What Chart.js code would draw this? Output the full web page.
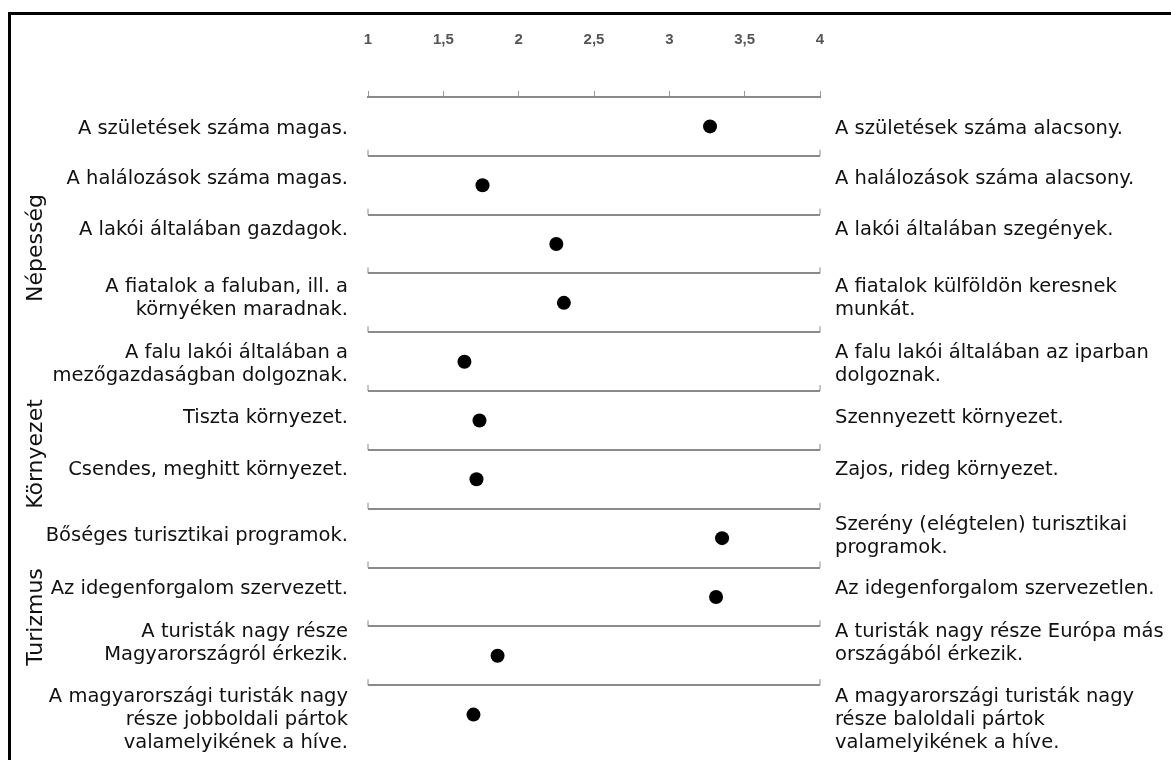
<!DOCTYPE html>
<html>
<head>
<meta charset="utf-8">
<script src="https://cdn.jsdelivr.net/npm/chart.js@4.4.1/dist/chart.umd.min.js"></script>
<style>
    html, body { margin: 0; padding: 0; background: #fff; }
    #wrap { position: relative; width: 1171px; height: 760px; overflow: hidden; }
    #frame { position: absolute; left: 8px; top: 12px; width: 1300px; height: 900px;
             border-top: 3px solid #000; border-left: 3px solid #000; }
    #c { position: absolute; left: 0; top: 0; }
</style>
</head>
<body>
<div id="wrap">
    <div id="frame"></div>
    <canvas id="c" width="1171" height="760"></canvas>
</div>
<script>
// Left pole of each statement (value 1)
const leftLabels = [
    ['A születések száma magas.'],
    ['A halálozások száma magas.'],
    ['A lakói általában gazdagok.'],
    ['A fiatalok a faluban, ill. a', 'környéken maradnak.'],
    ['A falu lakói általában a', 'mezőgazdaságban dolgoznak.'],
    ['Tiszta környezet.'],
    ['Csendes, meghitt környezet.'],
    ['Bőséges turisztikai programok.'],
    ['Az idegenforgalom szervezett.'],
    ['A turisták nagy része', 'Magyarországról érkezik.'],
    ['A magyarországi turisták nagy', 'része jobboldali pártok', 'valamelyikének a híve.']
];

// Right pole of each statement (value 4)
const rightLabels = [
    ['A születések száma alacsony.'],
    ['A halálozások száma alacsony.'],
    ['A lakói általában szegények.'],
    ['A fiatalok külföldön keresnek', 'munkát.'],
    ['A falu lakói általában az iparban', 'dolgoznak.'],
    ['Szennyezett környezet.'],
    ['Zajos, rideg környezet.'],
    ['Szerény (elégtelen) turisztikai', 'programok.'],
    ['Az idegenforgalom szervezetlen.'],
    ['A turisták nagy része Európa más', 'országából érkezik.'],
    ['A magyarországi turisták nagy', 'része baloldali pártok', 'valamelyikének a híve.']
];

// Mean scores (1..4)
const scores = [3.27, 1.76, 2.25, 2.30, 1.64, 1.74, 1.72, 3.35, 3.31, 1.86, 1.70];

const groupNames = ['Népesség', 'Környezet', 'Turizmus'];
const tickLabels = ['1', '1,5', '2', '2,5', '3', '3,5', '4'];

// layout constants (pixels)
const labelCenters = [129, 179, 230, 298, 364, 418, 470, 536, 589, 643, 720];
const groupCenters = [248, 454, 617];
const LINE_H = 23;

const textPlugin = {
    id: 'sideText',
    afterDraw(chart) {
        const ctx = chart.ctx;
        const area = chart.chartArea;
        const y = chart.scales.y;
        ctx.save();

        // little end ticks on each separator line
        ctx.strokeStyle = '#8a8a8a';
        ctx.lineWidth = 1;
        y.ticks.forEach(t => {
            const py = y.getPixelForValue(t.value);
            [area.left, area.right].forEach(px => {
                ctx.beginPath();
                ctx.moveTo(px, py);
                ctx.lineTo(px, py - 6);
                ctx.stroke();
            });
        });

        ctx.fillStyle = '#111';
        ctx.font = '19.5px "DejaVu Sans"';
        ctx.textBaseline = 'middle';
        leftLabels.forEach((lines, i) => {
            const top = labelCenters[i] - (lines.length - 1) * LINE_H / 2;
            ctx.textAlign = 'right';
            lines.forEach((ln, k) => ctx.fillText(ln, 348, top + k * LINE_H));
        });
        rightLabels.forEach((lines, i) => {
            const top = labelCenters[i] - (lines.length - 1) * LINE_H / 2;
            ctx.textAlign = 'left';
            lines.forEach((ln, k) => ctx.fillText(ln, 835, top + k * LINE_H));
        });

        ctx.font = '22px "DejaVu Sans"';
        ctx.textAlign = 'center';
        ctx.textBaseline = 'alphabetic';
        groupNames.forEach((g, i) => {
            ctx.save();
            ctx.translate(42, groupCenters[i]);
            ctx.rotate(-Math.PI / 2);
            ctx.fillText(g, 0, 0);
            ctx.restore();
        });
        ctx.restore();
    }
};

const ctx = document.getElementById('c');
new Chart(ctx, {
    type: 'scatter',
    data: {
        datasets: [{
            data: scores.map((v, i) => ({ x: v, y: i + 1 })),
            backgroundColor: '#000',
            borderWidth: 0,
            pointRadius: 7,
            pointHoverRadius: 7
        }]
    },
    options: {
        responsive: false,
        animation: false,
        devicePixelRatio: 1,
        layout: { padding: { left: 368, right: 351, top: 0, bottom: 16 } },
        plugins: { legend: { display: false }, tooltip: { enabled: false } },
        scales: {
            x: {
                type: 'linear',
                position: 'top',
                min: 1,
                max: 4,
                afterFit: s => { s.height = 97; },
                ticks: {
                    stepSize: 0.5,
                    padding: 42,
                    color: '#555',
                    font: { family: 'Liberation Sans', size: 15, weight: 'bold' },
                    callback: (v, i) => tickLabels[i]
                },
                grid: { drawOnChartArea: false, drawTicks: true, tickLength: 6, color: '#999', lineWidth: 1 },
                border: { display: true, color: '#8a8a8a', width: 2 }
            },
            y: {
                type: 'linear',
                reverse: true,
                min: 0.5,
                max: 11.5,
                afterFit: s => { s.width = 0; },
                afterBuildTicks: s => {
                    s.ticks = [1.5, 2.5, 3.5, 4.5, 5.5, 6.5, 7.5, 8.5, 9.5, 10.5].map(v => ({ value: v }));
                },
                ticks: { display: false },
                grid: { color: '#8a8a8a', lineWidth: 2, drawTicks: false },
                border: { display: false }
            }
        }
    },
    plugins: [textPlugin]
});
</script>
</body>
</html>
